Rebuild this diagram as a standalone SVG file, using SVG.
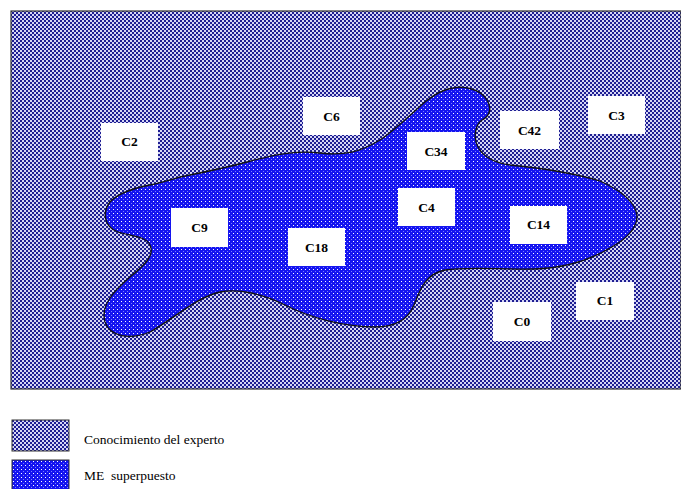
<svg xmlns="http://www.w3.org/2000/svg" width="681" height="489" viewBox="0 0 681 489">
<defs>
<pattern id="chk" width="4" height="4" patternUnits="userSpaceOnUse">
<rect width="4" height="4" fill="#d6d6f4"/>
<rect width="2" height="2" fill="#1e1e92"/>
<rect x="2" y="2" width="2" height="2" fill="#1e1e92"/>
</pattern>
<pattern id="dot" width="4" height="4" patternUnits="userSpaceOnUse">
<rect width="4" height="4" fill="#1414f0"/>
<rect x="1" y="1" width="1" height="1" fill="#ffffff"/>
<rect x="3" y="3" width="1" height="1" fill="#7a7aff"/>
</pattern>
<style>
.lbl rect{fill:#fff}
.lbl text{font-family:"Liberation Serif","Times New Roman",serif;font-weight:bold;font-size:13.5px;text-anchor:middle;fill:#000}
.leg{font-family:"Liberation Serif","Times New Roman",serif;font-size:13.5px;fill:#000}
</style>
</defs>
<rect width="681" height="489" fill="#fff"/>
<g id="expert-area">
<rect x="11" y="11" width="670" height="378" fill="url(#chk)" stroke="#333" stroke-width="1.2"/>
</g>
<g id="me-blob">
<path d="M453,88 C462,86 480,88 487,100 C492,108 490,116 482,120 C475,125 473,138 478,147 C484,158 495,163 510,165 C540,168 570,172 600,181 C620,190 635,202 637,215 C638,228 625,240 610,248 C590,260 565,268 535,269 C505,270 470,266 445,270 C425,274 420,290 414,305 C408,320 395,327 375,327 C345,327 310,318 285,305 C265,295 240,288 220,292 C195,298 175,318 150,332 C130,340 110,337 105,322 C100,305 115,290 130,277 C145,265 155,255 150,245 C146,236 130,236 118,232 C104,227 102,212 110,202 C118,193 135,188 150,185 C165,182 175,178 185,176 C205,172 225,168 247,162 C270,156 290,150 320,153 C345,156 360,152 380,140 C395,130 410,115 425,102 C435,94 445,89 453,88 Z" fill="url(#dot)" stroke="#111" stroke-width="1.3"/>
</g>
<g id="C6" class="lbl"><rect x="303" y="97" width="57" height="38"/><text x="331.5" y="121">C6</text></g>
<g id="C2" class="lbl"><rect x="101" y="123" width="57" height="38"/><text x="129.5" y="146">C2</text></g>
<g id="C42" class="lbl"><rect x="500" y="111" width="59" height="38"/><text x="529.5" y="135">C42</text></g>
<g id="C3" class="lbl"><rect x="588" y="96" width="57" height="38"/><text x="616.5" y="120">C3</text></g>
<g id="C34" class="lbl"><rect x="407" y="132" width="58" height="38"/><text x="436" y="156">C34</text></g>
<g id="C4" class="lbl"><rect x="398" y="188" width="57" height="38"/><text x="426.5" y="212">C4</text></g>
<g id="C9" class="lbl"><rect x="171" y="208" width="57" height="39"/><text x="199.5" y="232">C9</text></g>
<g id="C18" class="lbl"><rect x="288" y="228" width="57" height="38"/><text x="316.5" y="252">C18</text></g>
<g id="C14" class="lbl"><rect x="510" y="206" width="57" height="38"/><text x="538.5" y="229">C14</text></g>
<g id="C1" class="lbl"><rect x="576" y="282" width="58" height="38"/><text x="605" y="305">C1</text></g>
<g id="C0" class="lbl"><rect x="493" y="302" width="58" height="39"/><text x="522" y="326">C0</text></g>
<g id="connectors"></g>
<g id="legend">
<rect x="12" y="420" width="57" height="31" fill="url(#chk)" stroke="#333" stroke-width="1"/>
<text class="leg" x="84" y="444">Conocimiento del experto</text>
<rect x="12" y="460" width="57" height="31" fill="url(#dot)" stroke="#333" stroke-width="1"/>
<text class="leg" x="84" y="480" xml:space="preserve">ME  superpuesto</text>
</g>
</svg>
